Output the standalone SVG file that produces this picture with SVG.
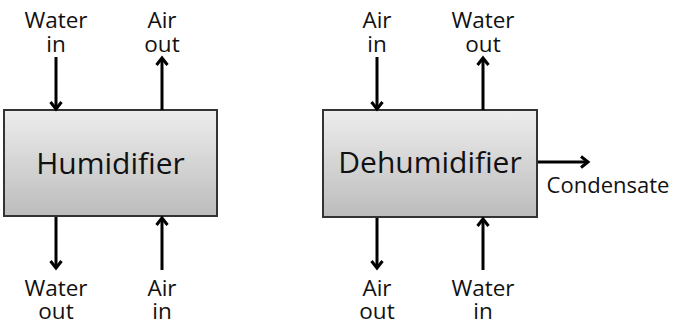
<svg xmlns="http://www.w3.org/2000/svg" width="676" height="325" viewBox="0 0 676 325">
<style>
.box{stroke:#333;stroke-width:2;fill:url(#g)}
.lbl{font-family:"Open Sans","Noto Sans",sans-serif;font-size:22.5px;fill:#111;text-anchor:middle}
.big{font-family:"Open Sans","Noto Sans",sans-serif;font-size:30px;fill:#111;text-anchor:middle}
.arr{stroke:#000;stroke-width:3;fill:none;marker-end:url(#ah)}
</style>
<defs>
<linearGradient id="g" x1="0" y1="0" x2="0" y2="1">
<stop offset="0" stop-color="#ededed"/>
<stop offset="1" stop-color="#bcbcbc"/>
</linearGradient>
<marker id="ah" markerUnits="userSpaceOnUse" viewBox="0 0 14 14" refX="11" refY="7" markerWidth="14" markerHeight="14" orient="auto">
<path d="M4,1.5 L11,7 L4,12.5" fill="none" stroke="#000" stroke-width="3"/>
</marker>
</defs>
<g id="humidifier">
<rect class="box" x="4" y="110" width="213" height="106"/>
<text class="big" x="110.5" y="174">Humidifier</text>
</g>
<g id="dehumidifier">
<rect class="box" x="323" y="110" width="214" height="107"/>
<text class="big" x="430" y="173">Dehumidifier</text>
</g>
<g id="labels">
<text class="lbl" x="56" y="28">Water</text>
<text class="lbl" x="56" y="52">in</text>
<text class="lbl" x="162" y="28">Air</text>
<text class="lbl" x="162" y="52">out</text>
<text class="lbl" x="56" y="296">Water</text>
<text class="lbl" x="56" y="319">out</text>
<text class="lbl" x="162" y="296">Air</text>
<text class="lbl" x="162" y="319">in</text>
<text class="lbl" x="377" y="28">Air</text>
<text class="lbl" x="377" y="52">in</text>
<text class="lbl" x="483" y="28">Water</text>
<text class="lbl" x="483" y="52">out</text>
<text class="lbl" x="377" y="296">Air</text>
<text class="lbl" x="377" y="319">out</text>
<text class="lbl" x="483" y="296">Water</text>
<text class="lbl" x="483" y="319">in</text>
<text class="lbl" x="608" y="193" style="font-size:22px">Condensate</text>
</g>
<g id="connectors">
<line class="arr" x1="56" y1="57" x2="56" y2="109"/>
<line class="arr" x1="162" y1="110" x2="162" y2="58"/>
<line class="arr" x1="56" y1="217" x2="56" y2="268"/>
<line class="arr" x1="162" y1="270" x2="162" y2="218"/>
<line class="arr" x1="377" y1="57" x2="377" y2="109"/>
<line class="arr" x1="483" y1="110" x2="483" y2="58"/>
<line class="arr" x1="377" y1="218" x2="377" y2="268"/>
<line class="arr" x1="483" y1="270" x2="483" y2="219"/>
<line class="arr" x1="538" y1="162" x2="588" y2="162"/>
</g>
</svg>
